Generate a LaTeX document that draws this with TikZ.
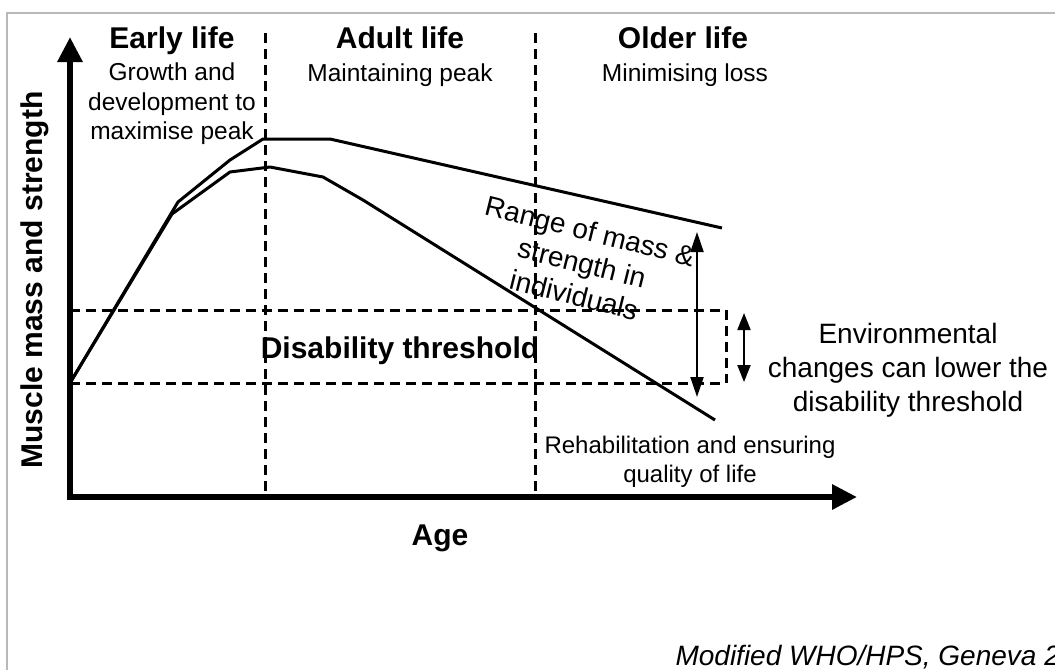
\documentclass[tikz,border=0pt]{standalone}
\usepackage{fontspec}
\setmainfont{Liberation Sans}
\usetikzlibrary{arrows.meta, positioning, calc}

\begin{document}
\begin{tikzpicture}[
    x=1pt,
    y=-1pt,
    axis/.style={
      line width=6pt,
      -{Triangle[width=24pt, length=25pt]}
    },
    divider/.style={
      line width=3pt,
      dash pattern=on 10pt off 6pt
    },
    curve/.style={line width=3pt, line join=round},
    spread/.style={line width=2pt, {Triangle[width=13pt, length=20pt]}-{Triangle[width=13pt, length=20pt]}},
    head/.style={font=\fontsize{30}{34}\selectfont\bfseries},
    sub/.style={font=\fontsize{24.5}{29.5}\selectfont, align=center},
    note/.style={font=\fontsize{28}{34}\selectfont, align=center}
]

% Rahmen und Zeichenfläche
\useasboundingbox (0,0) rectangle (1055,670);
\clip (0,0) rectangle (1055,670);
\draw[gray!55, line width=1.5pt] (7,670) -- (7,13) -- (1055,13);

% Achsen
\coordinate (origin) at (70,497);
\coordinate (ytip) at (70,37);
\coordinate (xtip) at (857,497);
\draw[axis] ($(origin)+(0,3)$) -- (ytip);
\draw[axis] ($(origin)+(-3,0)$) -- (xtip);

% Lebensphasen (senkrechte Trennlinien)
\coordinate (p1top) at (265,33);
\coordinate (p1bot) at (265,497);
\coordinate (p2top) at (535,33);
\coordinate (p2bot) at (535,497);
\draw[divider] (p1top) -- (p1bot);
\draw[divider] (p2top) -- (p2bot);

% Behinderungsschwelle (waagerecht)
\coordinate (thi) at (70,310);
\coordinate (tlo) at (70,383);
\coordinate (thiend) at (726,310);
\coordinate (tloend) at (726,383);
\draw[divider] (thi) -- (thiend);
\draw[divider] (tlo) -- (tloend);
\draw[divider] (thiend) -- (tloend);

% Kurven (obere und untere)
\coordinate (u1) at (178,202);
\coordinate (u2) at (230,160);
\coordinate (u3) at (263,139);
\coordinate (u4) at (330,139);
\coordinate (u5) at (722,228);
\draw[curve] (tlo) -- (u1) -- (u2) -- (u3) -- (u4) -- (u5);

\coordinate (l1) at (172,214);
\coordinate (l2) at (230,172);
\coordinate (l3) at (270,167);
\coordinate (l4) at (323,177);
\coordinate (l5) at (363,200);
\coordinate (l6) at (715,420);
\draw[curve] (tlo) -- (l1) -- (l2) -- (l3) -- (l4) -- (l5) -- (l6);

% Pfeile (Spannweite)
\coordinate (rtop) at (697,232);
\coordinate (rbot) at (697,397);
\draw[spread] (rbot) -- (rtop);
\coordinate (etop) at (744,313);
\coordinate (ebot) at (744,382);
\draw[spread, {Triangle[width=13pt, length=17pt]}-{Triangle[width=13pt, length=17pt]}] (ebot) -- (etop);

% Beschriftungen
\node[head, anchor=base] (early) at (172,48) {Early life};
\node[head, anchor=base] (adult) at (400,48) {Adult life};
\node[head, anchor=base] (older) at (683,48) {Older life};
\node[sub] (growth) at (172,104) {Growth and\\development to\\maximise peak};
\node[sub, anchor=base] (keep) at (400,81) {Maintaining peak};
\node[sub, anchor=base] (loss) at (685,81) {Minimising loss};

\node[head, anchor=base] (thresh) at (400,358) {Disability threshold};
\node[head, anchor=base] (age) at (440,545) {Age};
\node[head, rotate=90] (ylabel) at (35,280) {Muscle mass and strength};

\node[note, font=\fontsize{28}{33}\selectfont, rotate=-14] (range) at (582,263) {Range of mass \&\\strength in\\individuals};
\node[note] (env) at (908,370) {Environmental\\changes can lower the\\disability threshold};
\node[sub, font=\fontsize{24}{29}\selectfont] (rehab) at (690,462) {Rehabilitation and ensuring\\quality of life};

\node[font=\fontsize{28}{32}\selectfont\itshape, anchor=base west] (source) at (672,665) {Modified WHO/HPS, Geneva 2};

\end{tikzpicture}
\end{document}
